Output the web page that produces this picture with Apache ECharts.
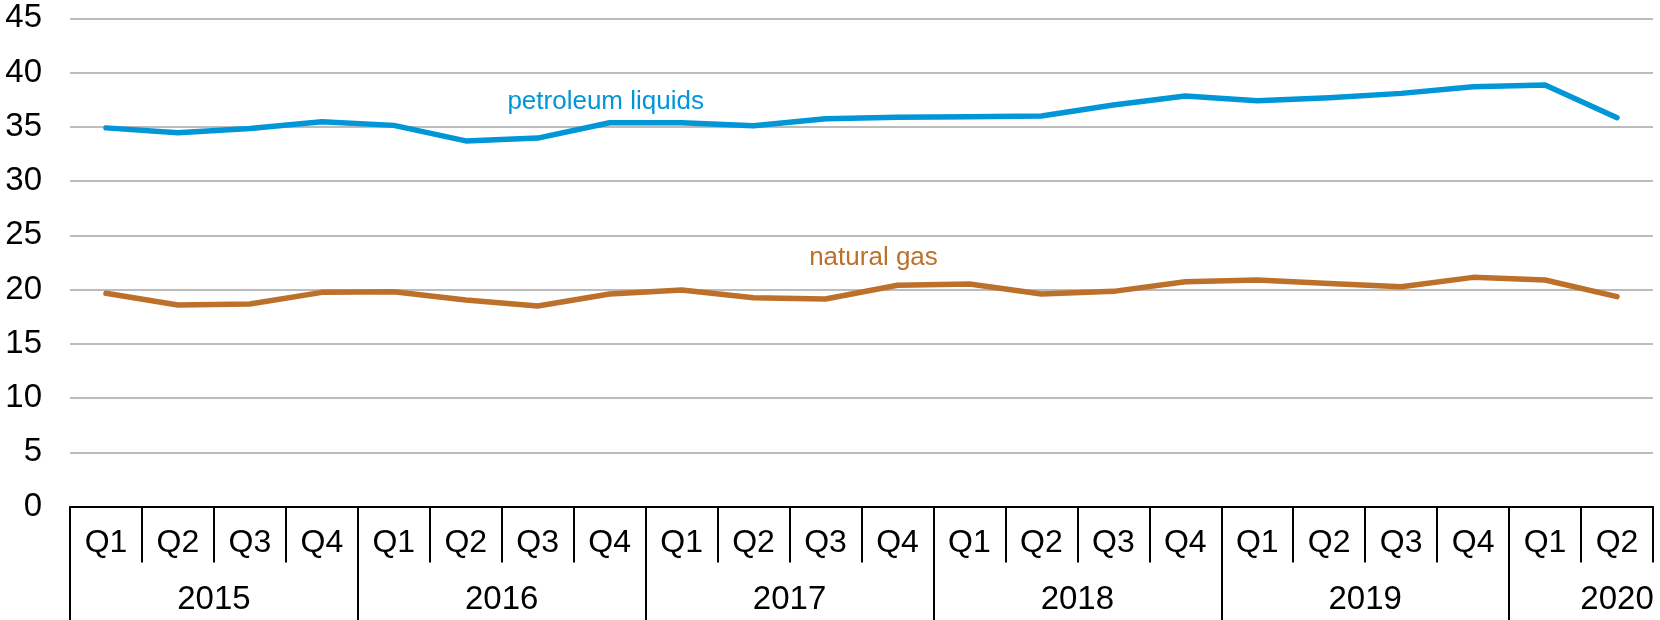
<!DOCTYPE html>
<html>
<head>
<meta charset="utf-8">
<script src="https://cdn.jsdelivr.net/npm/echarts@6/dist/echarts.min.js"></script>
<style>
html,body{margin:0;padding:0;background:#fff;}
#chart{width:1660px;height:620px;}
</style>
</head>
<body>
<div id="chart"></div>
<script>
var quarters = ['Q1','Q2','Q3','Q4','Q1','Q2','Q3','Q4','Q1','Q2','Q3','Q4','Q1','Q2','Q3','Q4','Q1','Q2','Q3','Q4','Q1','Q2'];
var years = ['2015','2016','2017','2018','2019','2020'];
var yearStarts = [0,4,8,12,16,20];
var yearLabelPos = [2,6,10,14,18,21.5];
var petroleum = [34.9,34.45,34.85,35.47,35.13,33.7,33.96,35.37,35.37,35.1,35.74,35.87,35.93,36.0,37.0,37.83,37.4,37.68,38.08,38.69,38.85,35.84];
var naturalGas = [19.65,18.57,18.66,19.74,19.8,19.03,18.48,19.59,19.95,19.25,19.12,20.4,20.5,19.59,19.83,20.72,20.88,20.55,20.26,21.12,20.88,19.34];

var FONT = '"Liberation Sans", Arial, sans-serif';
var BLUE = '#0096D7';
var BROWN = '#BD7029';

var chart = echarts.init(document.getElementById('chart'), null, {renderer:'canvas'});
chart.setOption({
  animation: false,
  backgroundColor: '#fff',
  grid: {left:70, right:7, top:18.3, bottom:113.5, containLabel:false, outerBoundsMode:'none'},
  xAxis: [
    {
      type:'category', data: quarters, boundaryGap:true, position:'bottom',
      axisLine:{show:true, lineStyle:{color:'#000', width:2}},
      axisTick:{show:true, length:56, lineStyle:{color:'#000', width:2}},
      axisLabel:{fontFamily:FONT, fontSize:32, color:'#000', margin:21},
      splitLine:{show:false}
    },
    {
      type:'value', min:0, max:quarters.length, position:'bottom',
      axisLine:{show:false},
      axisTick:{show:true, length:114, customValues: yearStarts, lineStyle:{color:'#000', width:2}},
      axisLabel:{fontFamily:FONT, fontSize:33, color:'#000', margin:77, customValues: yearLabelPos,
        formatter:function(v){ var i = yearLabelPos.indexOf(v); return i>=0 ? years[i] : ''; }},
      splitLine:{show:false}
    }
  ],
  yAxis: {
    type:'value', min:0, max:45, interval:5,
    axisLine:{show:false}, axisTick:{show:false},
    axisLabel:{fontFamily:FONT, fontSize:33, color:'#000', margin:28},
    splitLine:{show:true, lineStyle:{color:'#A6A6A6', width:1.5}}
  },
  series: [
    {
      name:'petroleum liquids', type:'line', xAxisIndex:0, data: petroleum,
      symbol:'none', lineStyle:{color:BLUE, width:5.5, cap:'round', join:'round'},
      markPoint:{symbol:'circle', symbolSize:1, itemStyle:{color:'rgba(0,0,0,0)'},
        label:{show:true, position:'inside', offset:[-4,0], fontFamily:FONT, fontSize:26, color:BLUE, formatter:'petroleum liquids'},
        data:[{coord:[7,37.3]}]}
    },
    {
      name:'natural gas', type:'line', xAxisIndex:0, data: naturalGas,
      symbol:'none', lineStyle:{color:BROWN, width:5.5, cap:'round', join:'round'},
      markPoint:{symbol:'circle', symbolSize:1, itemStyle:{color:'rgba(0,0,0,0)'},
        label:{show:true, position:'inside', offset:[-24,0], fontFamily:FONT, fontSize:26, color:BROWN, formatter:'natural gas'},
        data:[{coord:[11,22.9]}]}
    }
  ]
});
</script>
</body>
</html>
